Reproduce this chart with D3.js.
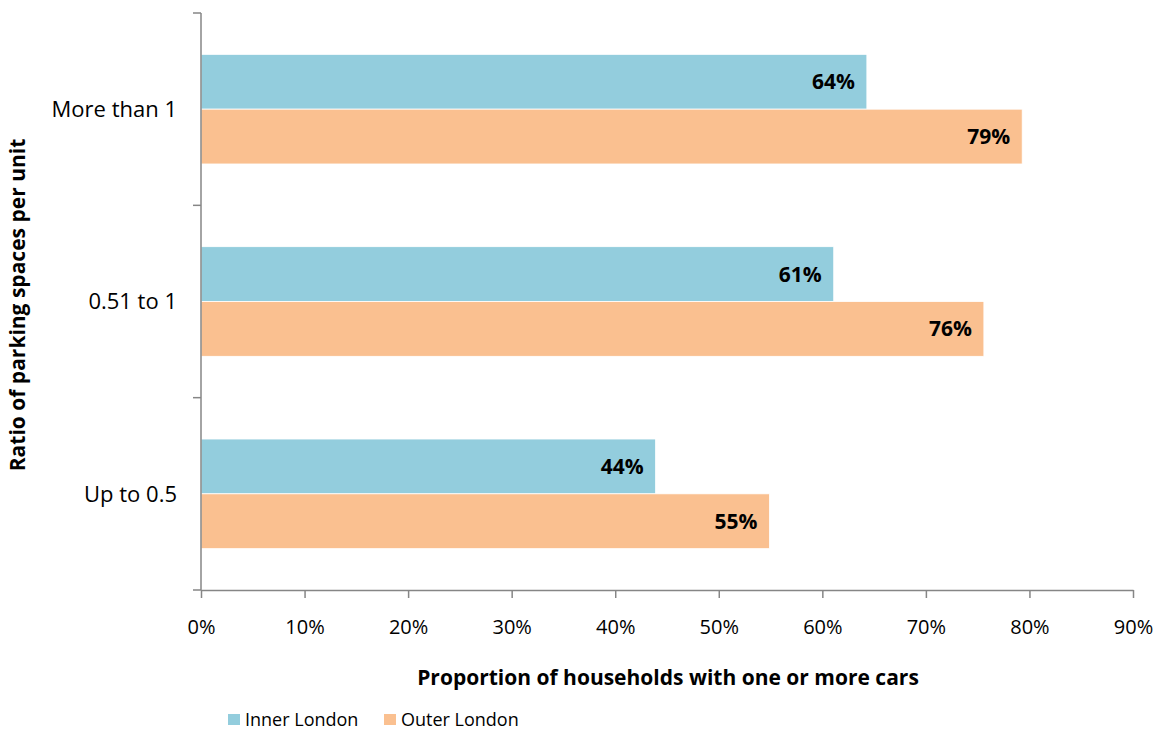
<!DOCTYPE html>
<html>
<head>
<meta charset="utf-8">
<script src="https://cdn.jsdelivr.net/npm/d3@7"></script>
<style>
  body { margin: 0; background: #fff; }
  text { font-family: "Open Sans", sans-serif; fill: #000; }
</style>
</head>
<body>
<div id="chart"></div>
<script>
const categories = ["More than 1", "0.51 to 1", "Up to 0.5"];
const seriesNames = ["Inner London", "Outer London"];
const innerLondon = [64.3, 61.1, 43.9];
const outerLondon = [79.3, 75.6, 54.9];
const xTicks = [0, 10, 20, 30, 40, 50, 60, 70, 80, 90];
const labelsInner = ["64%", "61%", "44%"];
const labelsOuter = ["79%", "76%", "55%"];
const colors = ["#93cddd", "#fac090"];

const W = 1165, H = 731;
const margin = { top: 13, left: 201, right: 32, bottom: 141 };
const width = W - margin.left - margin.right;
const height = H - margin.top - margin.bottom;

const svg = d3.select("#chart").append("svg")
  .attr("width", W).attr("height", H);
const g = svg.append("g")
  .attr("transform", "translate(" + margin.left + "," + margin.top + ")");

const x = d3.scaleLinear().domain([0, 90]).range([0, width]);
const y = d3.scaleBand().domain(categories).range([0, height])
  .paddingInner(0.43).paddingOuter(0.215);
const ySub = d3.scaleBand().domain(seriesNames).range([0, y.bandwidth()]);

const rows = categories.map((c, i) => ({
  cat: c,
  vals: [
    { s: seriesNames[0], v: innerLondon[i], lab: labelsInner[i] },
    { s: seriesNames[1], v: outerLondon[i], lab: labelsOuter[i] }
  ]
}));

// bars
const grp = g.selectAll(".cat").data(rows).enter().append("g")
  .attr("transform", d => "translate(0," + y(d.cat) + ")");
grp.selectAll("rect").data(d => d.vals).enter().append("rect")
  .attr("x", 0)
  .attr("y", d => ySub(d.s))
  .attr("width", d => x(d.v))
  .attr("height", ySub.bandwidth())
  .attr("fill", (d, i) => colors[i])
  .attr("stroke", "#fff").attr("stroke-width", 0.8);
grp.selectAll("text.val").data(d => d.vals).enter().append("text")
  .attr("class", "val")
  .attr("x", d => x(d.v) - 12)
  .attr("y", d => ySub(d.s) + ySub.bandwidth() / 2)
  .attr("dy", "0.36em")
  .attr("text-anchor", "end")
  .style("font-size", "21px").style("font-weight", "bold")
  .text(d => d.lab);

// x axis
const xAxis = g.append("g").attr("transform", "translate(0," + height + ")")
  .call(d3.axisBottom(x).tickValues(xTicks).tickFormat(d => d + "%").tickSize(8).tickSizeOuter(0));
xAxis.selectAll("text").style("font-size", "20px").attr("y", 30).attr("dy", "0.71em");

// y axis: ticks between categories
const yBounds = [0].concat(categories.map(c => y(c) + y.bandwidth() + y.step() * y.paddingInner() / 2));
yBounds[yBounds.length - 1] = height;
const yAx = g.append("g");
yAx.append("line").attr("x1", 0).attr("x2", 0).attr("y1", 0).attr("y2", height);
yAx.selectAll("line.tk").data(yBounds).enter().append("line").attr("class", "tk")
  .attr("x1", -8).attr("x2", 0).attr("y1", d => d).attr("y2", d => d);
yAx.selectAll("text").data(categories).enter().append("text")
  .attr("x", -24).attr("y", d => y(d) + y.bandwidth() / 2).attr("dy", "0.36em")
  .attr("text-anchor", "end").style("font-size", "22px").text(d => d);

g.selectAll(".domain, .tick line, line").attr("stroke", "#868686").attr("stroke-width", 1.5);

// titles
svg.append("text").attr("x", 668).attr("y", 685).attr("text-anchor", "middle")
  .style("font-size", "21px").style("font-weight", "bold")
  .text("Proportion of households with one or more cars");
svg.append("text").attr("transform", "translate(25,305) rotate(-90)").attr("text-anchor", "middle")
  .style("font-size", "21px").style("font-weight", "bold")
  .text("Ratio of parking spaces per unit");

// legend
const legX = [228, 384];
const leg = svg.selectAll(".leg").data(seriesNames).enter().append("g")
  .attr("transform", (d, i) => "translate(" + legX[i] + ",714)");
leg.append("rect").attr("width", 12).attr("height", 11).attr("fill", (d, i) => colors[i]);
leg.append("text").attr("x", 17).attr("y", 6).attr("dy", "0.36em")
  .style("font-size", "18px").text(d => d);
</script>
</body>
</html>
